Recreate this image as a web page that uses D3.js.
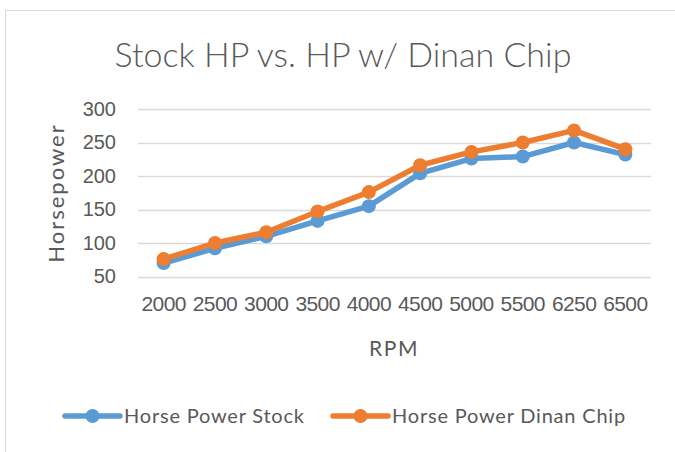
<!DOCTYPE html>
<html>
<head>
<meta charset="utf-8">
<script src="https://cdn.jsdelivr.net/npm/d3@7"></script>
<style>
  body { margin: 0; background: #fff; }
  svg { display: block; font-family: Lato, "Open Sans", sans-serif; }
  .tick line { display: none; }
  .domain { display: none; }
</style>
</head>
<body>
<svg id="chart" width="675" height="452"></svg>
<script>
// data
const rpm = ["2000", "2500", "3000", "3500", "4000", "4500", "5000", "5500", "6250", "6500"];
const hpStock = [70, 92, 110, 133, 155, 204, 226, 229, 250, 232];
const hpDinan = [76, 100, 116, 147, 176, 216, 236, 250, 268, 240];
const yTicks = [50, 100, 150, 200, 250, 300];
const seriesNames = ["Horse Power Stock", "Horse Power Dinan Chip"];
const seriesColors = ["#5B9BD5", "#ED7D31"];

const textColor = "#595959";
const plotLeft = 138, plotRight = 651, plotTop = 109, plotBottom = 276.5;

const svg = d3.select("#chart");

// chart frame
svg.append("rect")
  .attr("x", 5.5).attr("y", 10.5)
  .attr("width", 700).attr("height", 460)
  .attr("fill", "#fff").attr("stroke", "#d9d9d9");

const x = d3.scaleBand().domain(rpm).range([plotLeft, plotRight]).padding(0);
const y = d3.scaleLinear().domain([50, 300]).range([plotBottom, plotTop]);

// gridlines
svg.append("g")
  .selectAll("line")
  .data(yTicks)
  .enter()
  .append("line")
  .attr("x1", plotLeft).attr("x2", plotRight)
  .attr("y1", (d) => Math.round(y(d)) + 0.5)
  .attr("y2", (d) => Math.round(y(d)) + 0.5)
  .attr("stroke", "#d9d9d9")
  .attr("stroke-width", 1.3);

// axes
const yAxis = svg.append("g")
  .attr("transform", "translate(" + plotLeft + ",0)")
  .call(d3.axisLeft(y).tickValues(yTicks).tickSize(0).tickPadding(22));
yAxis.selectAll("text").attr("fill", textColor).style("font-size", "20px");

const xAxis = svg.append("g")
  .attr("transform", "translate(0," + plotBottom + ")")
  .call(d3.axisBottom(x).tickSize(0).tickPadding(20));
xAxis.selectAll("text").attr("fill", textColor).style("font-size", "21px")
  .attr("letter-spacing", "-0.6");

// titles
svg.append("text")
  .attr("x", 343).attr("y", 67)
  .attr("text-anchor", "middle")
  .attr("fill", textColor)
  .style("font-size", "34px")
  .style("font-weight", 300)
  .text("Stock HP vs. HP w/ Dinan Chip");

svg.append("text")
  .attr("transform", "rotate(-90)")
  .attr("x", -193).attr("y", 64)
  .attr("text-anchor", "middle")
  .attr("fill", textColor)
  .attr("letter-spacing", 2)
  .style("font-size", "22px")
  .text("Horsepower");

svg.append("text")
  .attr("x", 394).attr("y", 356)
  .attr("text-anchor", "middle")
  .attr("fill", textColor)
  .attr("letter-spacing", 1.5)
  .style("font-size", "21px")
  .text("RPM");

// lines and markers
const series = [hpStock, hpDinan];
const line = d3.line()
  .x((d, i) => x(rpm[i]) + x.bandwidth() / 2)
  .y((d) => y(d));

series.forEach((vals, s) => {
  const g = svg.append("g");
  g.append("path")
    .datum(vals)
    .attr("d", line)
    .attr("fill", "none")
    .attr("stroke", seriesColors[s])
    .attr("stroke-width", 5.5)
    .attr("stroke-linejoin", "round")
    .attr("stroke-linecap", "round");
  g.selectAll("circle")
    .data(vals)
    .enter()
    .append("circle")
    .attr("cx", (d, i) => x(rpm[i]) + x.bandwidth() / 2)
    .attr("cy", (d) => y(d))
    .attr("r", 7)
    .attr("fill", seriesColors[s]);
});

// legend
const legendX = [65, 333];
const legend = svg.append("g");
seriesNames.forEach((name, s) => {
  const lg = legend.append("g").attr("transform", "translate(" + legendX[s] + ",416)");
  lg.append("line")
    .attr("x1", 0).attr("x2", 55)
    .attr("stroke", seriesColors[s])
    .attr("stroke-width", 5.5)
    .attr("stroke-linecap", "round");
  lg.append("circle").attr("cx", 27.5).attr("r", 7).attr("fill", seriesColors[s]);
  lg.append("text")
    .attr("x", 59).attr("y", 7)
    .attr("fill", textColor)
    .attr("letter-spacing", 0.8)
    .style("font-size", "20px")
    .text(name);
});
</script>
</body>
</html>
